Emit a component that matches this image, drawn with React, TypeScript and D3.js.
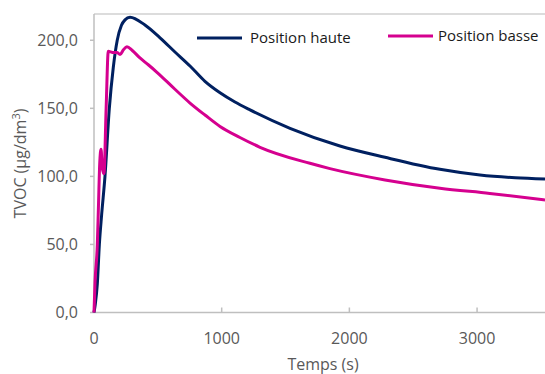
import React from "react";
import * as d3 from "d3";

const hauteT = [0, 10, 26, 42, 60, 86, 120, 151, 182, 215, 243, 282, 399, 517, 634, 752, 869, 987, 1104, 1222, 1535, 1926, 2279, 2709, 3023, 3300, 3532];
const hauteV = [0, 6, 21, 50, 72, 100, 150, 180, 200, 211, 215, 216.9, 211.2, 201.8, 191.4, 181.1, 169.8, 161.4, 154.6, 148.8, 135.3, 122.3, 114, 105.2, 101, 99, 98.1];

const basseT = [0, 8, 26, 34, 45, 55, 65, 78, 95, 112, 130, 151, 180, 204, 230, 258, 300, 360, 425, 493, 634, 752, 869, 987, 1143, 1300, 1691, 1848, 2279, 2709, 3100, 3532];
const basseV = [0, 22, 50, 75, 110, 120, 106, 102, 150, 192, 191.5, 191, 191, 189.5, 193, 195.3, 192.5, 187, 182, 176.5, 164, 153.9, 145.1, 136.7, 128.6, 121.4, 109.6, 105.7, 97.4, 91.3, 87.5, 82.7];

const yTicks = [0, 50, 100, 150, 200];
const xTicks = [0, 1000, 2000, 3000];
const seriesNames = ["Position haute", "Position basse"];
const seriesColors = ["#002060", "#D5008F"];

const W = 545, H = 374;
const left = 94, right = 545, top = 14, bottom = 312.5;

export default function App() {
  const x = d3.scaleLinear().domain([0, 3532]).range([left, right]);
  const y = d3.scaleLinear().domain([0, 219.3]).range([bottom, top]);
  const line = d3
    .line<[number, number]>()
    .x(d => x(d[0]))
    .y(d => y(d[1]))
    .curve(d3.curveMonotoneX);
  const haute = hauteT.map((t, i) => [t, hauteV[i]] as [number, number]);
  const basse = basseT.map((t, i) => [t, basseV[i]] as [number, number]);
  const fmt = (v: number) => v.toFixed(1).replace(".", ",");
  const font = "'Open Sans', sans-serif";
  const grey = "#595959";
  const axis = "#bfbfbf";
  return (
    <svg width={W} height={H} style={{ position: "absolute", left: 0, top: 0, background: "#fff" }}>
      <rect x={0} y={0} width={W} height={H} fill="#fff" />
      <line x1={left} x2={right} y1={top} y2={top} stroke="#d0d0d0" strokeWidth={1.5} />
      <line x1={left} x2={left} y1={top} y2={bottom} stroke={axis} strokeWidth={1.5} />
      <line x1={left} x2={right} y1={bottom} y2={bottom} stroke={axis} strokeWidth={1.5} />
      {yTicks.map(v => (
        <g key={"y" + v}>
          <line x1={left - 4} x2={left} y1={y(v)} y2={y(v)} stroke={axis} strokeWidth={1.5} />
          <text x={78} y={y(v)} dy="0.36em" textAnchor="end" fontFamily={font} fontSize={16} fill={grey}>{fmt(v)}</text>
        </g>
      ))}
      {xTicks.map(v => (
        <g key={"x" + v}>
          {v > 0 && <line x1={x(v)} x2={x(v)} y1={bottom - 5} y2={bottom} stroke={axis} strokeWidth={1.5} />}
          <text x={x(v)} y={344} textAnchor="middle" fontFamily={font} fontSize={16} fill={grey}>{v}</text>
        </g>
      ))}
      <text x={323} y={370} textAnchor="middle" fontFamily={font} fontSize={16} fill={grey}>Temps (s)</text>
      <text transform="translate(26,163.5) rotate(-90)" textAnchor="middle" fontFamily={font} fontSize={16} fill={grey}>
        TVOC (µg/dm<tspan dy={-6} fontSize={11}>3</tspan><tspan dy={6}>)</tspan>
      </text>
      <path d={line(haute) || ""} fill="none" stroke={seriesColors[0]} strokeWidth={3} strokeLinejoin="round" />
      <path d={line(basse) || ""} fill="none" stroke={seriesColors[1]} strokeWidth={3} strokeLinejoin="round" />
      <line x1={197} x2={242} y1={38} y2={38} stroke={seriesColors[0]} strokeWidth={3} />
      <text x={250} y={43} fontFamily={font} fontSize={15} fill="#1a1a1a">{seriesNames[0]}</text>
      <line x1={388} x2={433} y1={36} y2={36} stroke={seriesColors[1]} strokeWidth={3} />
      <text x={438} y={41} fontFamily={font} fontSize={15} fill="#1a1a1a">{seriesNames[1]}</text>
    </svg>
  );
}
